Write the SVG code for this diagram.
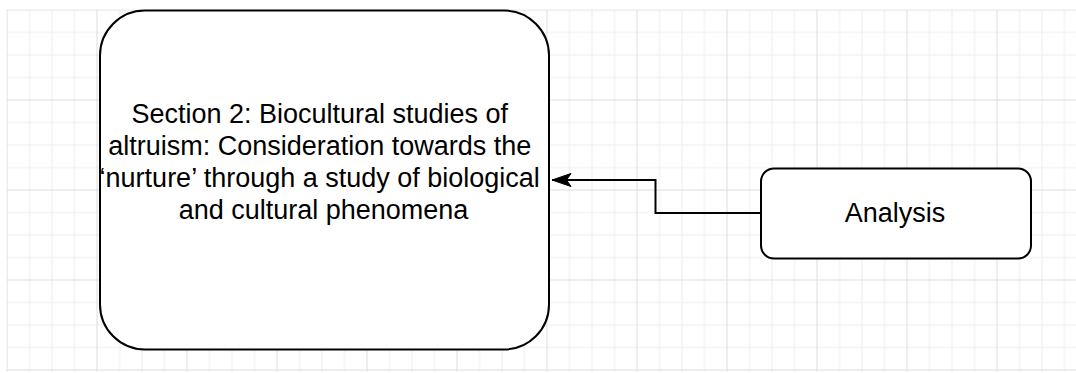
<svg xmlns="http://www.w3.org/2000/svg" width="1076" height="373" viewBox="0 0 1076 373">
  <style>
    .node { fill: #ffffff; stroke: #000000; stroke-width: 2; }
    .label { font-family: "Liberation Sans", Arial, Helvetica, sans-serif; font-size: 27px; fill: #000000; text-anchor: middle; }
    .edge { fill: none; stroke: #000000; stroke-width: 2; }
  </style>
  <defs>
    <pattern id="grid" patternUnits="userSpaceOnUse" x="6.5" y="9.5" width="90" height="90">
      <rect x="0" y="0" width="90" height="90" fill="#ffffff"/>
      <g fill="#ededed">
        <rect x="22.5" y="0" width="1" height="90"/>
        <rect x="45" y="0" width="1" height="90"/>
        <rect x="67.5" y="0" width="1" height="90"/>
        <rect x="0" y="22.5" width="90" height="1"/>
        <rect x="0" y="45" width="90" height="1"/>
        <rect x="0" y="67.5" width="90" height="1"/>
      </g>
      <g fill="#dcdcdc">
        <rect x="0" y="0" width="1" height="90"/>
        <rect x="0" y="0" width="90" height="1"/>
      </g>
    </pattern>
    <marker id="arrow" markerUnits="userSpaceOnUse" markerWidth="22" markerHeight="16" refX="20" refY="8" orient="auto" viewBox="0 0 22 16">
      <path d="M20,8 L1,1.5 L5.5,8 L1,14.5 Z" fill="#000000" stroke="#000000" stroke-width="1"/>
    </marker>
  </defs>
  <rect x="0" y="0" width="1076" height="373" fill="#ffffff"/>
  <rect x="6.5" y="9.5" width="1069.5" height="362" fill="url(#grid)"/>

  <g id="connectors">
    <path class="edge" d="M761,213 L655.5,213 L655.5,180 L552,180" marker-end="url(#arrow)"/>
  </g>

  <g id="node-section2">
    <rect class="node" x="100" y="10.5" width="449" height="339" rx="45" ry="45"/>
    <text class="label">
      <tspan x="323.5" y="123">Section 2: Biocultural studies of</tspan>
      <tspan x="323.5" y="155">altruism: Consideration towards the</tspan>
      <tspan x="323.5" y="187">‘nurture’ through a study of biological</tspan>
      <tspan x="323.5" y="218.5">and cultural phenomena</tspan>
    </text>
  </g>

  <g id="node-analysis">
    <rect class="node" x="761" y="168.5" width="270" height="90" rx="13" ry="13"/>
    <text class="label" x="895" y="221.5">Analysis</text>
  </g>
</svg>
